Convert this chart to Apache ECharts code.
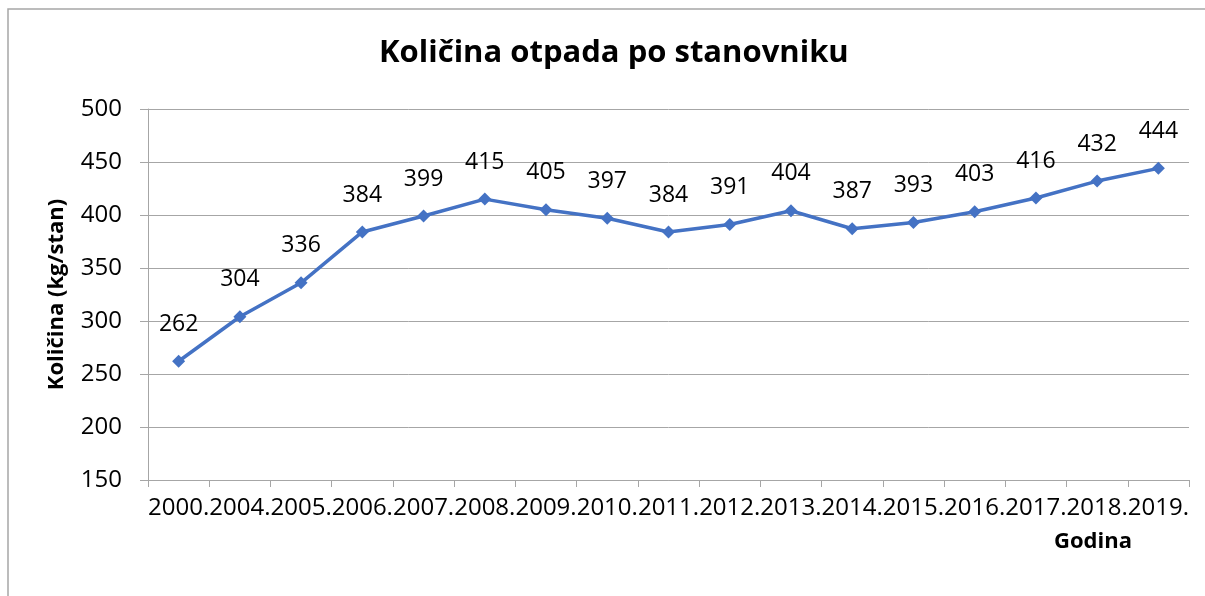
<!DOCTYPE html>
<html>
<head>
<meta charset="utf-8">
<script src="https://cdn.jsdelivr.net/npm/echarts@6/dist/echarts.min.js"></script>
<style>
  html, body { margin: 0; padding: 0; background: #fff; }
  #chart { width: 1205px; height: 596px; }
</style>
</head>
<body>
<div id="chart"></div>
<script>
// godine i kolicina otpada (kg po stanovniku)
var years = ['2000.', '2004.', '2005.', '2006.', '2007.', '2008.', '2009.', '2010.', '2011.',
             '2012.', '2013.', '2014.', '2015.', '2016.', '2017.', '2018.', '2019.'];
var amounts = [262, 304, 336, 384, 399, 415, 405, 397, 384, 391, 404, 387, 393, 403, 416, 432, 444];
var yTicks = { min: 150, max: 500, step: 50 };

var chart = echarts.init(document.getElementById('chart'), null, { renderer: 'canvas' });
var font = '"Open Sans", sans-serif';
var gray = '#a6a6a6';

var option = {
  animation: false,
  backgroundColor: '#fff',
  title: {
    text: 'Količina otpada po stanovniku',
    left: 374,
    top: 33,
    textStyle: { fontFamily: font, fontSize: 31, fontWeight: 'bold', color: '#000' }
  },
  graphic: [
    {
      type: 'rect',
      shape: { x: 8, y: 9, width: 1215, height: 620 },
      style: { fill: null, stroke: '#a6a6a6', lineWidth: 1.5 }
    },
    {
      type: 'text',
      left: 1054,
      top: 531,
      style: { text: 'Godina', fontFamily: font, fontSize: 22, fontWeight: 'bold', fill: '#000' }
    }
  ],
  grid: { left: 148, right: 16, top: 109, bottom: 116 },
  xAxis: {
    type: 'category',
    data: years,
    boundaryGap: true,
    axisLine: { lineStyle: { color: gray, width: 1 } },
    axisTick: { show: true, length: 7, lineStyle: { color: gray } },
    axisLabel: {
      interval: 0,
      hideOverlap: false,
      margin: 16,
      fontFamily: font,
      fontSize: 24,
      color: '#000'
    },
    splitLine: { show: false }
  },
  yAxis: {
    type: 'value',
    min: yTicks.min,
    max: yTicks.max,
    interval: yTicks.step,
    name: 'Količina (kg/stan)',
    nameLocation: 'middle',
    nameGap: 80,
    nameTextStyle: { fontFamily: font, fontSize: 22, fontWeight: 'bold', color: '#000' },
    axisLine: { show: true, lineStyle: { color: gray, width: 1 } },
    axisTick: { show: true, length: 8, lineStyle: { color: gray } },
    axisLabel: { margin: 26, fontFamily: font, fontSize: 24, color: '#000' },
    splitLine: { show: true, lineStyle: { color: gray, width: 1 } }
  },
  series: [
    {
      type: 'line',
      data: amounts,
      symbol: 'diamond',
      symbolSize: 13,
      lineStyle: { color: '#4472C4', width: 3.5 },
      itemStyle: { color: '#4472C4' },
      label: {
        show: true,
        position: 'top',
        distance: 19,
        fontFamily: font,
        fontSize: 23,
        color: '#000'
      }
    }
  ]
};

chart.setOption(option);
</script>
</body>
</html>
